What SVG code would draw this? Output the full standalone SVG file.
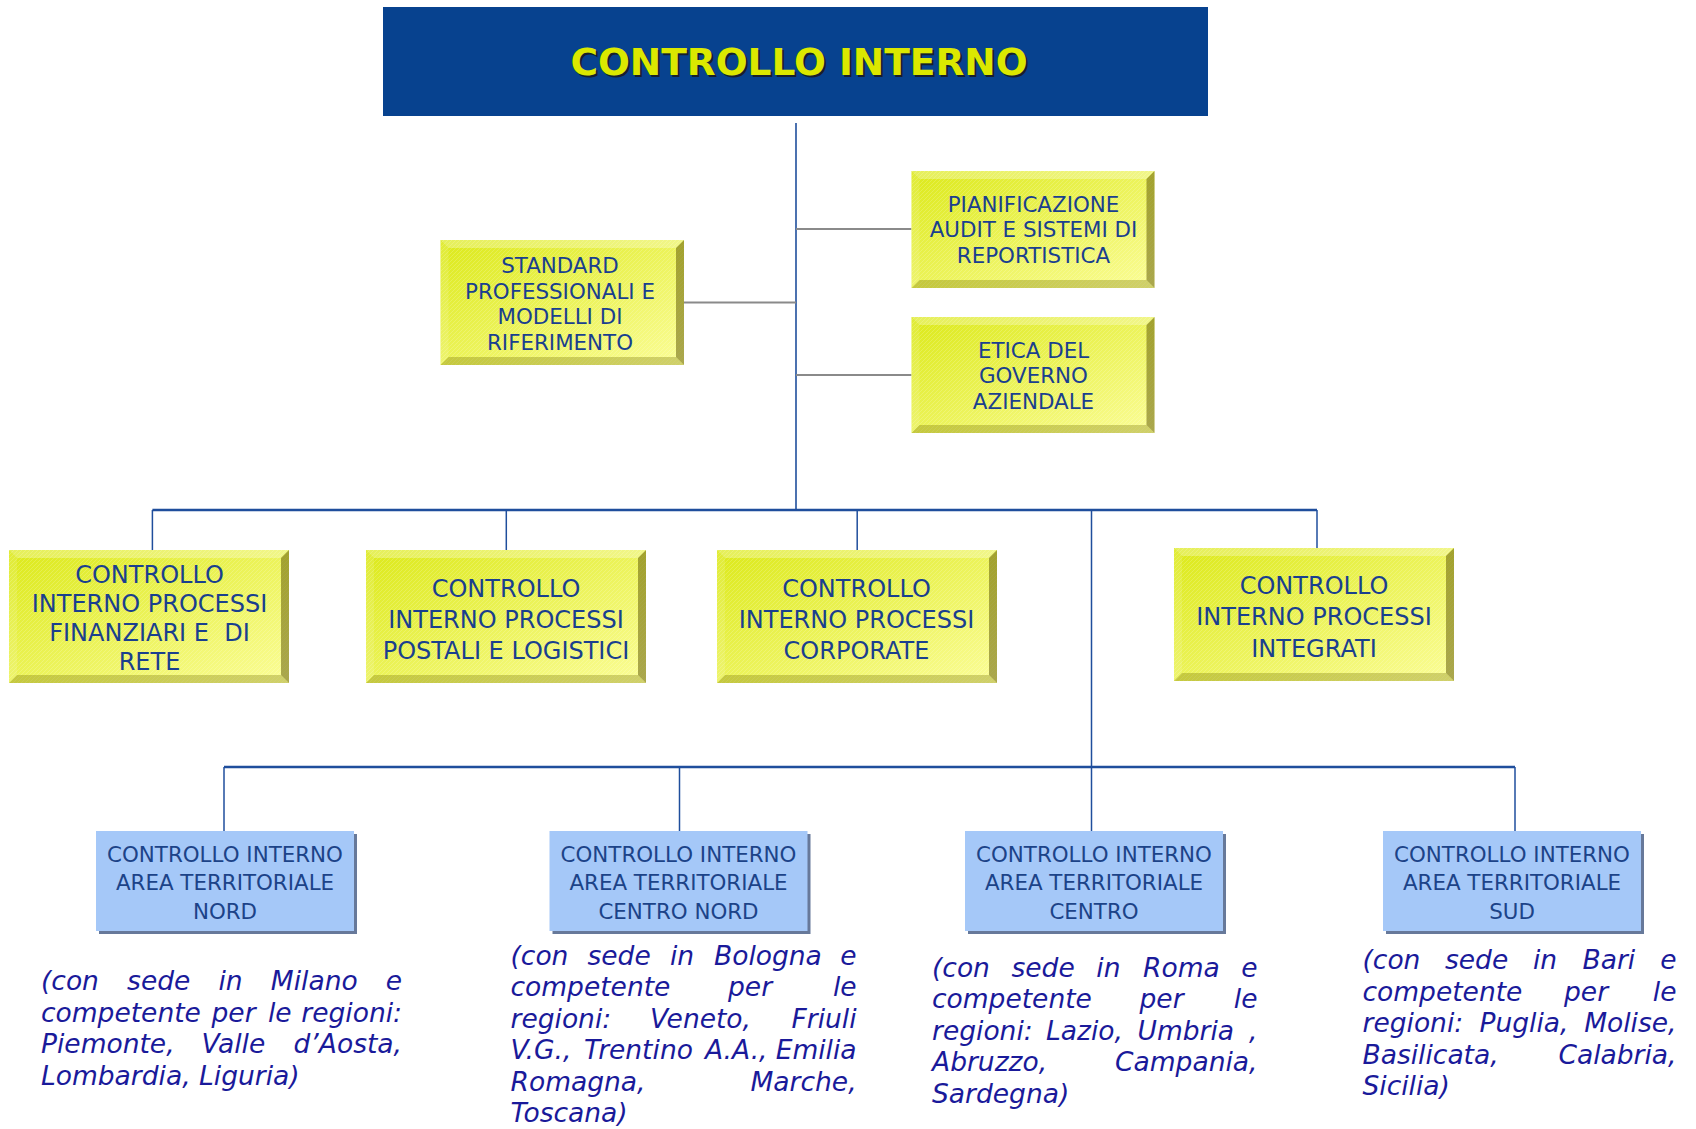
<svg xmlns="http://www.w3.org/2000/svg" width="1696" height="1129" viewBox="0 0 1696 1129">
<style>
text{font-family:"DejaVu Sans","Verdana",sans-serif}
.ttl{font-size:37.5px;font-weight:bold;fill:#dbe800;text-anchor:middle}
.ttls{font-size:37.5px;font-weight:bold;fill:#1a1a1a;text-anchor:middle;opacity:.85}
.ys{font-size:21.4px;fill:#1a3f8e;text-anchor:middle}
.yl{font-size:24px;fill:#1a3f8e;text-anchor:middle}
.bt{font-size:21.4px;fill:#1c4388;text-anchor:middle}
.it{font-size:26.5px;font-style:italic;fill:#1a1a9a}
.face{fill:url(#yg)}
.hatch{fill:url(#hp)}
.bt-top{fill:#ffffff;opacity:.28}
.bt-left{fill:#ffffff;opacity:.12}
.bt-right{fill:#5a5200;opacity:.5}
.bt-bot{fill:#6e6a00;opacity:.3}
.bbox{fill:#a5c8f8}
.bsh{fill:#67799a}
.cb{stroke:#1f4e9c;fill:none}
.cg{stroke:#8a8a8a;stroke-width:2;fill:none}
</style>
<defs>
<linearGradient id="yg" x1="0" y1="0" x2="1" y2="1">
<stop offset="0" stop-color="#dce91a"/>
<stop offset="1" stop-color="#fbfd98"/>
</linearGradient>
<pattern id="hp" width="4" height="4" patternUnits="userSpaceOnUse">
<path d="M0,4 L4,0" stroke="#ffffff" stroke-width="0.7" opacity="0.25"/>
</pattern>
</defs>
<rect width="1696" height="1129" fill="#ffffff"/>

<g id="connectors">
<line class="cb" stroke-width="1.6" x1="796" y1="123" x2="796" y2="510"/>
<line class="cg" x1="796" y1="229" x2="911.5" y2="229"/>
<line class="cg" x1="796" y1="375" x2="911.5" y2="375"/>
<line class="cg" x1="684" y1="302.5" x2="796" y2="302.5"/>
<line class="cb" stroke-width="2.4" x1="152.4" y1="510" x2="1317" y2="510"/>
<line class="cb" stroke-width="1.5" x1="152.4" y1="510" x2="152.4" y2="550"/>
<line class="cb" stroke-width="1.5" x1="506.3" y1="510" x2="506.3" y2="550"/>
<line class="cb" stroke-width="1.5" x1="857.2" y1="510" x2="857.2" y2="550"/>
<line class="cb" stroke-width="1.5" x1="1317" y1="510" x2="1317" y2="548"/>
<line class="cb" stroke-width="1.5" x1="1091.5" y1="510" x2="1091.5" y2="767"/>
<line class="cb" stroke-width="2.4" x1="224" y1="767" x2="1515" y2="767"/>
<line class="cb" stroke-width="1.5" x1="224" y1="767" x2="224" y2="831"/>
<line class="cb" stroke-width="1.5" x1="679.5" y1="767" x2="679.5" y2="831"/>
<line class="cb" stroke-width="1.5" x1="1091.5" y1="767" x2="1091.5" y2="831"/>
<line class="cb" stroke-width="1.5" x1="1515" y1="767" x2="1515" y2="831"/>
</g>

<g id="title">
<rect x="383" y="7" width="825" height="109" fill="#07428f"/>
<text class="ttls" x="801" y="77">CONTROLLO INTERNO</text>
<text class="ttl" x="799" y="75">CONTROLLO INTERNO</text>
</g>

<g id="pianificazione">
<rect class="face" x="911.5" y="171" width="243" height="117"/>
<rect class="hatch" x="911.5" y="171" width="243" height="117"/>
<polygon class="bt-top" points="911.5,171 1154.5,171 1146.5,179 919.5,179"/>
<polygon class="bt-left" points="911.5,171 919.5,179 919.5,280 911.5,288"/>
<polygon class="bt-right" points="1154.5,171 1154.5,288 1146.5,280 1146.5,179"/>
<polygon class="bt-bot" points="911.5,288 919.5,280 1146.5,280 1154.5,288"/>
<text class="ys" x="1033.5" y="211.5">PIANIFICAZIONE</text>
<text class="ys" x="1033.5" y="237">AUDIT E SISTEMI DI</text>
<text class="ys" x="1033.5" y="262.5">REPORTISTICA</text>
</g>

<g id="etica">
<rect class="face" x="911.5" y="317" width="243" height="116"/>
<rect class="hatch" x="911.5" y="317" width="243" height="116"/>
<polygon class="bt-top" points="911.5,317 1154.5,317 1146.5,325 919.5,325"/>
<polygon class="bt-left" points="911.5,317 919.5,325 919.5,425 911.5,433"/>
<polygon class="bt-right" points="1154.5,317 1154.5,433 1146.5,425 1146.5,325"/>
<polygon class="bt-bot" points="911.5,433 919.5,425 1146.5,425 1154.5,433"/>
<text class="ys" x="1033.5" y="357.5">ETICA DEL</text>
<text class="ys" x="1033.5" y="383">GOVERNO</text>
<text class="ys" x="1033.5" y="408.5">AZIENDALE</text>
</g>

<g id="standard">
<rect class="face" x="440.5" y="240" width="243.5" height="125"/>
<rect class="hatch" x="440.5" y="240" width="243.5" height="125"/>
<polygon class="bt-top" points="440.5,240 684,240 676,248 448.5,248"/>
<polygon class="bt-left" points="440.5,240 448.5,248 448.5,357 440.5,365"/>
<polygon class="bt-right" points="684,240 684,365 676,357 676,248"/>
<polygon class="bt-bot" points="440.5,365 448.5,357 676,357 684,365"/>
<text class="ys" x="560" y="273">STANDARD</text>
<text class="ys" x="560" y="298.5">PROFESSIONALI E</text>
<text class="ys" x="560" y="324">MODELLI DI</text>
<text class="ys" x="560" y="349.5">RIFERIMENTO</text>
</g>

<g id="finanziari">
<rect class="face" x="9" y="550" width="280" height="133"/>
<rect class="hatch" x="9" y="550" width="280" height="133"/>
<polygon class="bt-top" points="9,550 289,550 281,558 17,558"/>
<polygon class="bt-left" points="9,550 17,558 17,675 9,683"/>
<polygon class="bt-right" points="289,550 289,683 281,675 281,558"/>
<polygon class="bt-bot" points="9,683 17,675 281,675 289,683"/>
<text class="yl" x="149.5" y="583">CONTROLLO</text>
<text class="yl" x="149.5" y="612">INTERNO PROCESSI</text>
<text class="yl" x="149.5" y="641" xml:space="preserve">FINANZIARI E  DI</text>
<text class="yl" x="149.5" y="669.5">RETE</text>
</g>

<g id="postali">
<rect class="face" x="366" y="550" width="280" height="133"/>
<rect class="hatch" x="366" y="550" width="280" height="133"/>
<polygon class="bt-top" points="366,550 646,550 638,558 374,558"/>
<polygon class="bt-left" points="366,550 374,558 374,675 366,683"/>
<polygon class="bt-right" points="646,550 646,683 638,675 638,558"/>
<polygon class="bt-bot" points="366,683 374,675 638,675 646,683"/>
<text class="yl" x="506" y="597">CONTROLLO</text>
<text class="yl" x="506" y="628">INTERNO PROCESSI</text>
<text class="yl" x="506" y="659">POSTALI E LOGISTICI</text>
</g>

<g id="corporate">
<rect class="face" x="717" y="550" width="280" height="133"/>
<rect class="hatch" x="717" y="550" width="280" height="133"/>
<polygon class="bt-top" points="717,550 997,550 989,558 725,558"/>
<polygon class="bt-left" points="717,550 725,558 725,675 717,683"/>
<polygon class="bt-right" points="997,550 997,683 989,675 989,558"/>
<polygon class="bt-bot" points="717,683 725,675 989,675 997,683"/>
<text class="yl" x="856.5" y="597">CONTROLLO</text>
<text class="yl" x="856.5" y="628">INTERNO PROCESSI</text>
<text class="yl" x="856.5" y="659">CORPORATE</text>
</g>

<g id="integrati">
<rect class="face" x="1174" y="548" width="280" height="133"/>
<rect class="hatch" x="1174" y="548" width="280" height="133"/>
<polygon class="bt-top" points="1174,548 1454,548 1446,556 1182,556"/>
<polygon class="bt-left" points="1174,548 1182,556 1182,673 1174,681"/>
<polygon class="bt-right" points="1454,548 1454,681 1446,673 1446,556"/>
<polygon class="bt-bot" points="1174,681 1182,673 1446,673 1454,681"/>
<text class="yl" x="1314" y="593.5">CONTROLLO</text>
<text class="yl" x="1314" y="625">INTERNO PROCESSI</text>
<text class="yl" x="1314" y="656.5">INTEGRATI</text>
</g>

<g id="nord">
<rect class="bsh" x="99" y="834" width="258" height="100"/>
<rect class="bbox" x="96" y="831" width="258" height="100"/>
<text class="bt" x="225" y="861.5">CONTROLLO INTERNO</text>
<text class="bt" x="225" y="890">AREA TERRITORIALE</text>
<text class="bt" x="225" y="918.5">NORD</text>
</g>

<g id="centronord">
<rect class="bsh" x="552.5" y="834" width="258" height="100"/>
<rect class="bbox" x="549.5" y="831" width="258" height="100"/>
<text class="bt" x="678.5" y="861.5">CONTROLLO INTERNO</text>
<text class="bt" x="678.5" y="890">AREA TERRITORIALE</text>
<text class="bt" x="678.5" y="918.5">CENTRO NORD</text>
</g>

<g id="centro">
<rect class="bsh" x="968" y="834" width="258" height="100"/>
<rect class="bbox" x="965" y="831" width="258" height="100"/>
<text class="bt" x="1094" y="861.5">CONTROLLO INTERNO</text>
<text class="bt" x="1094" y="890">AREA TERRITORIALE</text>
<text class="bt" x="1094" y="918.5">CENTRO</text>
</g>

<g id="sud">
<rect class="bsh" x="1386" y="834" width="258" height="100"/>
<rect class="bbox" x="1383" y="831" width="258" height="100"/>
<text class="bt" x="1512" y="861.5">CONTROLLO INTERNO</text>
<text class="bt" x="1512" y="890">AREA TERRITORIALE</text>
<text class="bt" x="1512" y="918.5">SUD</text>
</g>

<g id="note-nord">
<text class="it" y="990"><tspan x="41">(con</tspan><tspan x="127.1">sede</tspan><tspan x="218.4">in</tspan><tspan x="270.8">Milano</tspan><tspan x="402" text-anchor="end">e</tspan></text>
<text class="it" y="1021.5"><tspan x="41">competente</tspan><tspan x="211.5">per</tspan><tspan x="268">le</tspan><tspan x="402" text-anchor="end">regioni:</tspan></text>
<text class="it" y="1053"><tspan x="41">Piemonte,</tspan><tspan x="201.5">Valle</tspan><tspan x="402" text-anchor="end">d’Aosta,</tspan></text>
<text class="it" y="1084.5" x="41">Lombardia, Liguria)</text>
</g>

<g id="note-centronord">
<text class="it" y="964.5"><tspan x="510.5">(con</tspan><tspan x="587.5">sede</tspan><tspan x="670">in</tspan><tspan x="714">Bologna</tspan><tspan x="856.6" text-anchor="end">e</tspan></text>
<text class="it" y="996"><tspan x="510.5">competente</tspan><tspan x="728">per</tspan><tspan x="856.6" text-anchor="end">le</tspan></text>
<text class="it" y="1027.5"><tspan x="510.5">regioni:</tspan><tspan x="650">Veneto,</tspan><tspan x="856.6" text-anchor="end">Friuli</tspan></text>
<text class="it" y="1059"><tspan x="510.5">V.G.,</tspan><tspan x="584">Trentino</tspan><tspan x="705">A.A.,</tspan><tspan x="856.6" text-anchor="end">Emilia</tspan></text>
<text class="it" y="1090.5"><tspan x="510.5">Romagna,</tspan><tspan x="856.6" text-anchor="end">Marche,</tspan></text>
<text class="it" y="1122" x="510.5">Toscana)</text>
</g>

<g id="note-centro">
<text class="it" y="976.5"><tspan x="932">(con</tspan><tspan x="1011.5">sede</tspan><tspan x="1096.3">in</tspan><tspan x="1143">Roma</tspan><tspan x="1257.5" text-anchor="end">e</tspan></text>
<text class="it" y="1008"><tspan x="932">competente</tspan><tspan x="1139.5">per</tspan><tspan x="1257.5" text-anchor="end">le</tspan></text>
<text class="it" y="1039.5"><tspan x="932">regioni:</tspan><tspan x="1046">Lazio,</tspan><tspan x="1137.5">Umbria</tspan><tspan x="1257.5" text-anchor="end">,</tspan></text>
<text class="it" y="1071"><tspan x="932">Abruzzo,</tspan><tspan x="1257.5" text-anchor="end">Campania,</tspan></text>
<text class="it" y="1102.5" x="932">Sardegna)</text>
</g>

<g id="note-sud">
<text class="it" y="969"><tspan x="1362.5">(con</tspan><tspan x="1445">sede</tspan><tspan x="1533">in</tspan><tspan x="1582.5">Bari</tspan><tspan x="1676.5" text-anchor="end">e</tspan></text>
<text class="it" y="1000.5"><tspan x="1362.5">competente</tspan><tspan x="1564">per</tspan><tspan x="1676.5" text-anchor="end">le</tspan></text>
<text class="it" y="1032"><tspan x="1362.5">regioni:</tspan><tspan x="1479.5">Puglia,</tspan><tspan x="1676.5" text-anchor="end">Molise,</tspan></text>
<text class="it" y="1063.5"><tspan x="1362.5">Basilicata,</tspan><tspan x="1676.5" text-anchor="end">Calabria,</tspan></text>
<text class="it" y="1095" x="1362.5">Sicilia)</text>
</g>
</svg>
